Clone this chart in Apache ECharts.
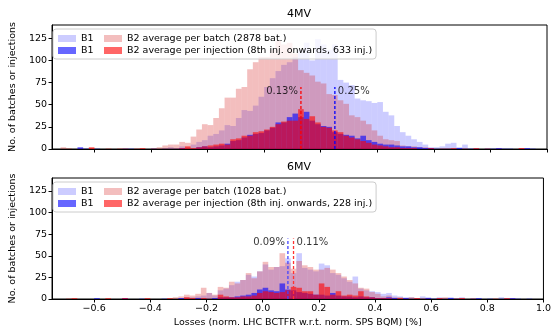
<!DOCTYPE html>
<html>
<head>
<meta charset="utf-8">
<script src="https://cdn.jsdelivr.net/npm/echarts@6/dist/echarts.min.js"></script>
<style>
html, body { margin: 0; padding: 0; background: #fff; }
#chart { width: 554px; height: 329px; }
</style>
</head>
<body>
<div id="chart"></div>
<script>
// histogram bins: left edge of first bin and width (in %)
const binStart = -0.74;
const binWidth = 0.02;
const xTicks = [-0.6, -0.4, -0.2, 0, 0.2, 0.4, 0.6, 0.8, 1.0];
const yTicks = [0, 25, 50, 75, 100, 125];

// 4MV panel, counts per bin (87 bins)
const b1Batch4 = [0,0,0,0,0,1,0,1,0,0,0,0,1,1,0,0,0,
  1,0,1,2,1,3,2,5,8,10,15,17,21,27,26,35,44,43,49,59,
  70,80,88,95,98,104,112,120,100,124,118,112,118,78,75,72,57,55,54,52,
  53,42,38,26,19,15,11,8,5,2,2,3,6,7,2,5,1,1,0,1,1,0,1,1,0,1,0,1,0,0];
const b2Batch4 = [0,2,1,0,1,0,1,0,0,1,0,1,1,0,1,0,0,
  1,2,4,5,5,8,7,14,22,28,27,35,46,58,58,68,70,90,98,104,
  104,112,122,118,120,108,
  89,86,83,76,74,62,61,55,51,38,36,32,28,21,15,11,10,9,4,3,
  3,2,2,1,0,1,1,0,0,1,0,0,0,1,0,1,0,0,0,1,0,0,0,0];
const b1Inj4 = [0,0,0,0,2,0,0,0,0,0,0,0,0,0,0,0,0,0,0,0,0,0,1,0,0,2,
  3,2,3,4,6,9,10,13,16,17,18,21,24,30,30,36,40,36,42,32,28,26,25,19,17,16,15,12,15,10,8,6,5,5,4,3,3,2,2,1,1,
  0,0,0,0,1,0,0,0,0,0,0,1,0,0,0,0,1,0,0,0];
const b2Inj4 = [0,0,0,0,0,0,2,0,0,0,0,0,0,0,0,1,0,0,0,0,0,0,1,3,1,2,
  3,4,5,6,5,11,12,15,15,19,20,22,25,28,31,32,32,45,34,37,30,25,24,21,19,15,13,11,9,7,5,4,3,2,2,1,1,1,0,0,1,
  0,0,0,1,0,0,0,1,0,0,0,0,0,0,0,1,0,0,0,0];

// 6MV panel
const b1Batch6 = [0,0,0,0,0,0,0,0,0,0,0,0,0,0,0,1,0,0,0,1,0,
  0,1,2,2,3,4,7,4,10,12,16,20,22,28,26,32,40,34,37,38,
  47,30,53,36,34,32,41,39,30,28,24,20,26,12,10,9,8,6,7,4,
  3,2,2,1,3,2,1,2,1,2,1,2,0,1,0,0,1,0,2,1,0,1,0,1,0,0];
const b2Batch6 = [0,0,1,0,0,0,0,0,0,0,0,0,1,0,0,0,0,0,0,0,0,
  2,3,5,4,6,13,7,5,14,13,20,18,22,30,24,32,43,37,37,53,
  42,35,44,39,37,34,34,36,34,30,26,22,18,13,12,8,6,3,4,2,
  2,1,2,1,1,1,0,1,2,0,1,1,0,1,0,0,0,1,0,0,1,0,0,0,0,0];
const b1Inj6 = [0,0,0,0,0,0,0,1,0,0,0,0,1,0,0,0,0,0,0,0,0,
  0,1,0,0,1,0,0,1,2,2,2,3,4,5,7,11,13,10,9,18,
  11,10,8,7,6,5,5,4,7,4,3,3,2,3,2,2,1,1,2,1,
  0,1,0,0,0,1,0,0,0,1,0,0,0,0,1,0,0,0,0,0,1,0,0,0,0,0];
const b2Inj6 = [0,0,0,1,0,0,0,0,0,1,0,0,1,0,0,0,1,0,0,0,1,
  0,0,2,1,0,1,0,0,5,3,2,2,3,3,4,7,9,8,7,8,
  10,14,13,9,9,5,18,14,5,9,4,5,4,9,3,2,1,1,1,0,
  1,0,0,1,0,0,0,1,0,0,0,1,0,0,0,0,0,0,0,1,0,0,0,0,0,0];

// mean markers [B2, B1] per panel
const means4 = [0.13, 0.25];
const means6 = [0.11, 0.09];
const markerTop = 70;

const legendText = {
  '4MV B1 batch': 'B1',
  '4MV B1 inj': 'B1',
  '4MV B2 batch': 'B2 average per batch (2878 bat.)',
  '4MV B2 inj': 'B2 average per injection (8th inj. onwards, 633 inj.)',
  '6MV B1 batch': 'B1',
  '6MV B1 inj': 'B1',
  '6MV B2 batch': 'B2 average per batch (1028 bat.)',
  '6MV B2 inj': 'B2 average per injection (8th inj. onwards, 228 inj.)'
};

const FONT = 'DejaVu Sans';
const cLightBlue = 'rgba(0,0,255,0.2)';
const cPink = 'rgba(214,39,40,0.3)';
const cBlue = 'rgba(0,0,255,0.6)';
const cRed = 'rgba(255,0,0,0.6)';

const toBins = counts => counts
  .map((c, i) => [binStart + i * binWidth, c])
  .filter(d => d[1] > 0);

const renderBin = (params, api) => {
  const x0 = api.value(0);
  const n = api.value(1);
  const a = api.coord([x0, n]);
  const b = api.coord([x0 + binWidth, 0]);
  return {
    type: 'rect',
    shape: { x: a[0], y: a[1], width: b[0] - a[0], height: b[1] - a[1] },
    style: { fill: api.visual('color') }
  };
};

const hist = (name, counts, color, idx) => ({
  type: 'custom',
  name: name,
  xAxisIndex: idx,
  yAxisIndex: idx,
  data: toBins(counts),
  encode: { x: 0, y: 1 },
  renderItem: renderBin,
  itemStyle: { color: color },
  clip: true,
  z: 2
});

const meanLine = (x, color, idx, side) => [
  {
    type: 'line',
    xAxisIndex: idx,
    yAxisIndex: idx,
    data: [[x, 0], [x, markerTop]],
    symbol: 'none',
    silent: true,
    lineStyle: { color: color, width: 1.3, type: [3, 2] },
    z: 4
  },
  {
    type: 'scatter',
    xAxisIndex: idx,
    yAxisIndex: idx,
    data: [[x, markerTop - 4.5]],
    symbolSize: 0,
    silent: true,
    label: {
      show: true,
      position: side,
      distance: 3,
      formatter: x.toFixed(2) + '%',
      fontFamily: FONT,
      fontSize: 10,
      color: '#000'
    },
    z: 4
  }
];

const fmtTick = v => (v < 0 ? '\u2212' : '') + Math.abs(v).toFixed(1);

const xAxisBase = (idx, showLabels) => ({
  type: 'value',
  gridIndex: idx,
  min: -0.75,
  max: 1.0,
  z: 5,
  splitLine: { show: false },
  axisLine: { show: true, onZero: false, lineStyle: { color: '#000', width: 1 } },
  axisTick: { show: true, length: 3.5, customValues: xTicks, lineStyle: { color: '#000' } },
  axisLabel: {
    show: showLabels,
    customValues: xTicks,
    formatter: fmtTick,
    fontFamily: FONT,
    fontSize: 9.5,
    color: '#000',
    margin: 5
  }
});

const yAxisBase = idx => ({
  type: 'value',
  gridIndex: idx,
  min: 0,
  max: 140,
  z: 5,
  name: 'No. of batches or injections',
  nameLocation: 'middle',
  nameGap: 24,
  nameTextStyle: { fontFamily: FONT, fontSize: 9.5, color: '#000' },
  splitLine: { show: false },
  axisLine: { show: true, onZero: false, lineStyle: { color: '#000', width: 1 } },
  axisTick: { show: true, length: 3.5, customValues: yTicks, lineStyle: { color: '#000' } },
  axisLabel: {
    customValues: yTicks,
    fontFamily: FONT,
    fontSize: 9.5,
    color: '#000',
    margin: 5
  }
});

// two columns, two rows like the matplotlib legend (ncol=2)
const legendBase = (names, top) => ({
  data: names,
  orient: 'vertical',
  left: 53,
  top: top,
  height: 26,
  z: 10,
  itemWidth: 18,
  itemHeight: 7,
  itemGap: 1,
  icon: 'rect',
  padding: [4, 4, 3, 5],
  backgroundColor: 'rgba(255,255,255,0.8)',
  borderColor: '#cccccc',
  borderWidth: 1,
  borderRadius: 3,
  selectedMode: false,
  itemStyle: { borderWidth: 0 },
  formatter: name => legendText[name] === 'B1' ? '{c1|B1}' : legendText[name],
  textStyle: {
    fontFamily: FONT, fontSize: 9.5, color: '#000', lineHeight: 11,
    rich: { c1: { width: 22, fontFamily: FONT, fontSize: 9.5, color: '#000', lineHeight: 11 } }
  }
});

const chart = echarts.init(document.getElementById('chart'));
chart.setOption({
  animation: false,
  backgroundColor: '#fff',
  grid: [
    { left: 50, right: 7, top: 25, height: 124, show: true, borderColor: '#000', borderWidth: 1 },
    { left: 50, right: 7, top: 178, height: 123, show: true, borderColor: '#000', borderWidth: 1 }
  ],
  graphic: [
    { type: 'text', left: 287, top: 9, style: { text: '4MV', font: '11px "DejaVu Sans"', fill: '#000' } },
    { type: 'text', left: 287, top: 162, style: { text: '6MV', font: '11px "DejaVu Sans"', fill: '#000' } }
  ],
  legend: [
    legendBase(['4MV B1 batch', '4MV B1 inj', '4MV B2 batch', '4MV B2 inj'], 29),
    legendBase(['6MV B1 batch', '6MV B1 inj', '6MV B2 batch', '6MV B2 inj'], 182)
  ],
  xAxis: [
    xAxisBase(0, false),
    Object.assign(xAxisBase(1, true), {
      name: 'Losses (norm. LHC BCTFR w.r.t. norm. SPS BQM) [%]',
      nameLocation: 'middle',
      nameGap: 19,
      nameTextStyle: { fontFamily: FONT, fontSize: 9.5, color: '#000' }
    })
  ],
  yAxis: [yAxisBase(0), yAxisBase(1)],
  series: [
    hist('4MV B1 batch', b1Batch4, cLightBlue, 0),
    hist('4MV B2 batch', b2Batch4, cPink, 0),
    hist('4MV B1 inj', b1Inj4, cBlue, 0),
    hist('4MV B2 inj', b2Inj4, cRed, 0),
    hist('6MV B1 batch', b1Batch6, cLightBlue, 1),
    hist('6MV B2 batch', b2Batch6, cPink, 1),
    hist('6MV B1 inj', b1Inj6, cBlue, 1),
    hist('6MV B2 inj', b2Inj6, cRed, 1),
    ...meanLine(means4[0], '#ff0000', 0, 'left'),
    ...meanLine(means4[1], '#0000ff', 0, 'right'),
    ...meanLine(means6[1], '#4444ff', 1, 'left'),
    ...meanLine(means6[0], '#ff3333', 1, 'right')
  ]
});
</script>
</body>
</html>
